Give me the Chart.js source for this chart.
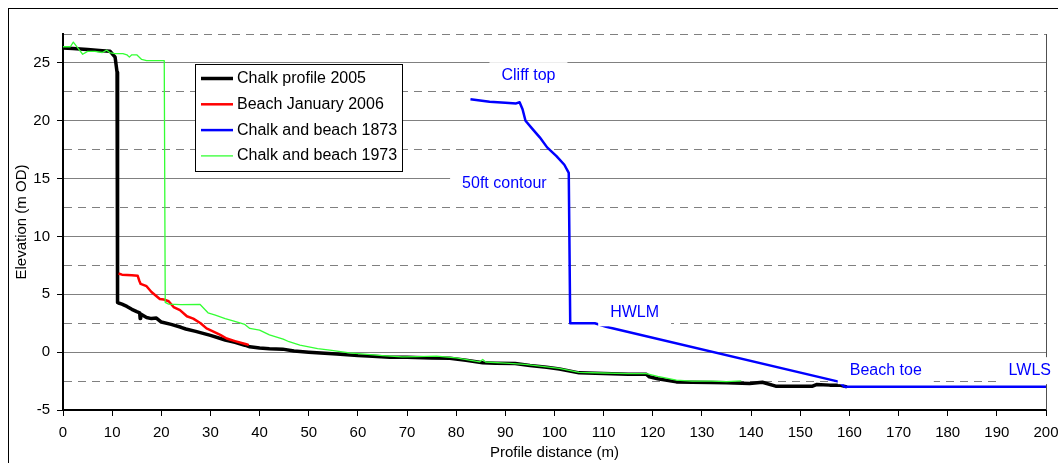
<!DOCTYPE html>
<html>
<head>
<meta charset="utf-8">
<script src="https://cdn.jsdelivr.net/npm/chart.js@4.4.0/dist/chart.umd.min.js"></script>
<style>
  html, body { margin: 0; padding: 0; background: #fff; }
  #wrap { width: 1058px; height: 463px; position: relative; }
</style>
</head>
<body>
<div id="wrap"><canvas id="profile"></canvas></div>
<script>
// Cliff and beach profile: 2005 chalk survey, 2006 beach, historic 1873 / 1973 lines

const chalk2005X = [0, 2, 5, 8, 9.6, 10.6, 11.0, 11.1, 11.3, 12, 13, 14, 15, 15.6, 15.7, 15.8, 17, 18, 19, 20,
  22, 24, 25, 27, 30, 33, 35, 37, 38, 40, 42, 44.7, 47, 50, 55.7, 60, 63, 66.5, 70, 75,
  78.7, 82, 85.4, 88, 92, 95, 98.4, 101, 105, 110, 115, 118.7, 119.3, 121, 124.8, 128, 132, 135, 139.7, 142.3,
  145, 150, 152.5, 153.3, 156, 158, 159.5];
const chalk2005Y = [26.3, 26.25, 26.15, 26.05, 26.0, 25.5, 24.2, 4.3, 4.25, 4.15, 3.95, 3.7, 3.5, 3.4, 2.9, 3.3, 3.0, 2.9, 2.95, 2.6,
  2.4, 2.15, 2.0, 1.8, 1.45, 1.05, 0.85, 0.6, 0.46, 0.35, 0.3, 0.26, 0.1, 0.0, -0.17, -0.3, -0.35, -0.43, -0.45, -0.5,
  -0.52, -0.7, -0.92, -0.95, -0.98, -1.15, -1.3, -1.45, -1.79, -1.85, -1.9, -1.92, -2.13, -2.3, -2.57, -2.6, -2.62, -2.65, -2.7, -2.6,
  -2.94, -2.95, -2.94, -2.8, -2.85, -2.85, -3.0];

const beach2006X = [11.3, 12, 14, 15.2, 15.5, 15.8, 17, 18, 19.7, 20.5, 21.5, 22.5, 23.8, 25.2, 26.5, 28, 29.2, 30.5, 32, 33.3, 35, 37.3, 37.8];
const beach2006Y = [6.8, 6.7, 6.65, 6.6, 6.2, 5.9, 5.7, 5.2, 4.6, 4.55, 4.4, 3.9, 3.63, 3.1, 2.9, 2.5, 2.05, 1.8, 1.5, 1.18, 0.95, 0.69, 0.6];

const survey1873X = [82.9, 86.8, 90, 92.2, 92.9, 93.5, 94.1, 95.5, 97, 98.5, 100.4, 102, 102.9, 103.2, 108.2, 110.5, 158, 159, 200];
const survey1873Y = [21.86, 21.65, 21.55, 21.5, 21.6, 21.0, 20.0, 19.3, 18.57, 17.7, 16.95, 16.2, 15.5, 2.5, 2.5, 2.2, -2.57, -3.0, -3.0];

const survey1973X = [0, 1.5, 2.1, 3, 4.0, 5, 6.5, 8, 8.9, 9.5, 10.5, 12.2, 13, 13.5, 14, 15, 16, 17, 20.6, 20.8,
  21.5, 24, 27.9, 29.5, 31, 33, 34.6, 37, 38, 40, 42, 44.8, 46, 48.2, 50, 51.8, 54.3, 58.3, 62, 65,
  69, 72, 76, 80, 84.8, 85.4, 86, 90, 94, 98.4, 101, 105, 110, 115, 118.7, 121, 124.8, 128, 132, 135, 138];
const survey1973Y = [26.4, 26.4, 26.8, 26.3, 25.75, 26.0, 26.0, 25.9, 26.1, 25.9, 25.8, 25.8, 25.7, 25.5, 25.7, 25.7, 25.3, 25.2, 25.2, 4.3,
  4.15, 4.1, 4.12, 3.4, 3.2, 2.9, 2.7, 2.4, 2.05, 1.9, 1.5, 1.12, 0.9, 0.6, 0.45, 0.3, 0.17, -0.06, -0.2, -0.3,
  -0.4, -0.38, -0.35, -0.5, -0.84, -0.63, -0.85, -0.95, -1.05, -1.27, -1.4, -1.75, -1.8, -1.85, -1.85, -2.1, -2.42, -2.5, -2.5, -2.55, -2.48];

const seriesNames = ['Chalk profile 2005', 'Beach January 2006', 'Chalk and beach 1873', 'Chalk and beach 1973'];
const yLabelValues = [-5, 0, 5, 10, 15, 20, 25];

// text notes placed on the 1873 line (value coordinates)
const noteText = ['Cliff top', '50ft contour', 'HWLM', 'Beach toe', 'LWLS'];
const noteX = [94.7, 89.8, 116.3, 167.4, 196.7];
const noteY = [23.9, 14.6, 3.4, -1.6, -1.6];

const FONT = '"Liberation Sans", Arial, sans-serif';

function toPoints(xs, ys) {
  return xs.map((x, i) => ({ x: x, y: ys[i] }));
}

// white page, outer frame, right edge of plot
const framePlugin = {
  id: 'frame',
  beforeDraw(chart) {
    const c = chart.ctx;
    c.save();
    c.fillStyle = '#fff';
    c.fillRect(0, 0, chart.width, chart.height);
    c.strokeStyle = '#000';
    c.lineWidth = 1;
    c.strokeRect(8.5, 8.5, chart.width, chart.height);
    c.restore();
  },
  beforeDatasetsDraw(chart) {
    const a = chart.chartArea, c = chart.ctx;
    c.save();
    c.strokeStyle = '#505050';
    c.lineWidth = 1;
    c.beginPath();
    c.moveTo(a.right + 0.5, a.top);
    c.lineTo(a.right + 0.5, a.bottom);
    c.stroke();
    c.restore();
  }
};

// blue labels on white boxes
const notesPlugin = {
  id: 'notes',
  afterDatasetsDraw(chart) {
    const c = chart.ctx, xs = chart.scales.x, ys = chart.scales.y;
    c.save();
    c.font = '16px ' + FONT;
    c.textAlign = 'center';
    c.textBaseline = 'middle';
    noteText.forEach((t, i) => {
      const px = xs.getPixelForValue(noteX[i]);
      const py = ys.getPixelForValue(noteY[i]);
      const w = c.measureText(t).width;
      c.fillStyle = '#fff';
      c.fillRect(px - w / 2 - 12, py - 13.5, w + 24, 27);
      c.fillStyle = '#0000ff';
      c.fillText(t, px, py);
    });
    c.restore();
  }
};

// boxed legend inside the plot
const legendPlugin = {
  id: 'boxLegend',
  afterDraw(chart) {
    const c = chart.ctx, a = chart.chartArea;
    const left = a.left + 132, top = a.top + 30, w = 207, h = 107;
    c.save();
    c.fillStyle = '#fff';
    c.fillRect(left, top, w, h);
    c.strokeStyle = '#000';
    c.lineWidth = 1;
    c.strokeRect(left + 0.5, top + 0.5, w, h);
    c.font = '16px ' + FONT;
    c.textBaseline = 'middle';
    c.textAlign = 'left';
    chart.data.datasets.forEach((ds, i) => {
      const y = top + 14.5 + i * 25.8;
      c.strokeStyle = ds.borderColor;
      c.lineWidth = ds.borderWidth;
      c.beginPath();
      c.moveTo(left + 6, y);
      c.lineTo(left + 38, y);
      c.stroke();
      c.fillStyle = '#000';
      c.fillText(ds.label, left + 42, y);
    });
    c.restore();
  }
};

new Chart(document.getElementById('profile'), {
  type: 'line',
  data: {
    datasets: [
      { label: seriesNames[0], data: toPoints(chalk2005X, chalk2005Y), borderColor: '#000000', borderWidth: 3.5, order: 4 },
      { label: seriesNames[1], data: toPoints(beach2006X, beach2006Y), borderColor: '#ff0000', borderWidth: 2.5, order: 3 },
      { label: seriesNames[2], data: toPoints(survey1873X, survey1873Y), borderColor: '#0000ff', borderWidth: 2.5, order: 2 },
      { label: seriesNames[3], data: toPoints(survey1973X, survey1973Y), borderColor: '#33ff33', borderWidth: 1.3, order: 1 }
    ]
  },
  options: {
    responsive: true,
    maintainAspectRatio: false,
    animation: false,
    devicePixelRatio: 1,
    layout: { padding: { left: 8, right: 12, top: 34, bottom: 0 } },
    elements: {
      point: { radius: 0 },
      line: { tension: 0, fill: false, borderJoinStyle: 'round' }
    },
    plugins: { legend: { display: false }, tooltip: { enabled: false } },
    scales: {
      x: {
        type: 'linear', min: 0, max: 200,
        ticks: { stepSize: 10, color: '#000', font: { family: FONT, size: 15 }, padding: 8, maxRotation: 0 },
        grid: { drawOnChartArea: false, tickLength: 6, tickColor: '#000' },
        border: { color: '#000', width: 2 },
        title: { display: true, text: 'Profile distance (m)', color: '#000', font: { family: FONT, size: 15 }, padding: { top: 0, bottom: 1 } },
        afterFit(s) {
          s.height = 53;
          // let the last label run off the edge like the original
          s.paddingLeft = 0;
          s.paddingRight = 0;
        }
      },
      y: {
        min: -5, max: 27.5,
        ticks: {
          stepSize: 2.5, color: '#000', font: { family: FONT, size: 15 }, padding: 7,
          callback: v => (yLabelValues.includes(v) ? v : '')
        },
        grid: {
          color: c => (c.tick && c.tick.value > -5 ? '#808080' : 'rgba(0,0,0,0)'),
          lineWidth: 1,
          tickLength: 6,
          tickColor: c => (c.tick && yLabelValues.includes(c.tick.value) ? '#000' : 'rgba(0,0,0,0)')
        },
        border: {
          color: '#000', width: 2,
          dash: c => (c.tick && c.tick.value % 5 !== 0 ? [8, 6] : [])
        },
        title: { display: true, text: 'Elevation (m OD)', color: '#000', font: { family: FONT, size: 15 }, padding: { top: 5, bottom: 0 } },
        afterFit(s) {
          s.width = 55;
          s.paddingTop = 0;
          s.paddingBottom = 0;
        }
      }
    }
  },
  plugins: [framePlugin, notesPlugin, legendPlugin]
});
</script>
</body>
</html>
